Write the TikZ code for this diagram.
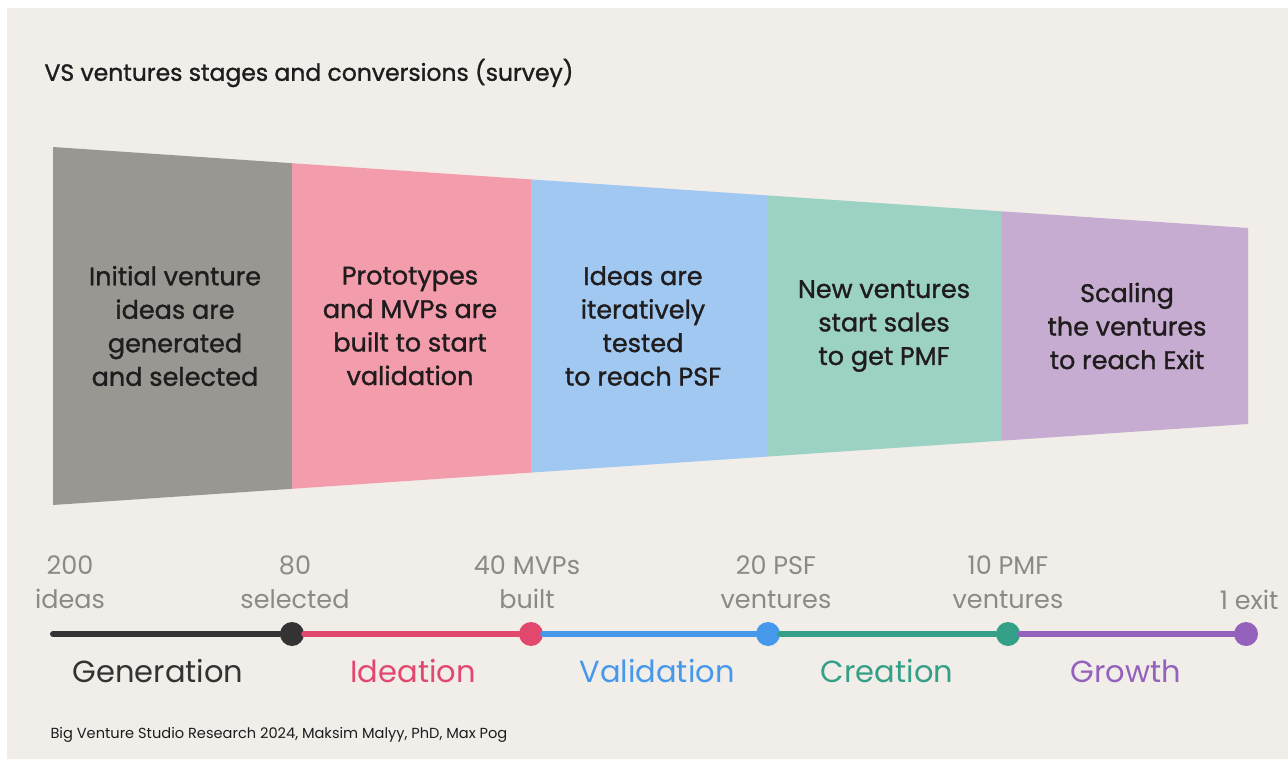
\documentclass[tikz,border=0pt]{standalone}
\usepackage{fontspec}
\setmainfont{Poppins}
\newfontfamily\medfont{Poppins}[FakeBold=1.2]
\begin{document}
\begin{tikzpicture}[x=1pt,y=-1pt,
 blurb/.style={align=center,text=ink,font=\medfont\fontsize{25.5}{33.5}\selectfont},
 count/.style={align=center,text=numgray,font=\fontsize{25.5}{34}\selectfont},
 phase/.style={font=\fontsize{30.5}{32}\selectfont},
 dot/.style={circle,inner sep=0pt,minimum size=24pt},
 tline/.style={line width=6pt,line cap=round}]
 \definecolor{bg}{RGB}{241,237,233}
 \definecolor{ink}{RGB}{32,28,30}
 \definecolor{numgray}{RGB}{140,138,135}
 \definecolor{s1}{RGB}{153,151,146}
 \definecolor{s2}{RGB}{243,156,172}
 \definecolor{s3}{RGB}{160,200,240}
 \definecolor{s4}{RGB}{155,210,196}
 \definecolor{s5}{RGB}{198,172,208}
 \definecolor{l1}{RGB}{52,50,50}
 \definecolor{l2}{RGB}{226,72,110}
 \definecolor{l3}{RGB}{70,152,235}
 \definecolor{l4}{RGB}{52,160,135}
 \definecolor{l5}{RGB}{148,98,188}
 \useasboundingbox (0,0) rectangle (1288,759);
 \fill[white] (0,0) rectangle (1288,759);
 \fill[bg] (7,8) rectangle (1288,759);
 \node[anchor=west,text=ink,font=\medfont\fontsize{23.5}{26}\selectfont] (title)
   at (41,73) {VS ventures stages and conversions (survey)};
 \foreach \col/\xa/\xb in {
   s1/53/292, s2/292/531, s3/531/767,
   s4/767/1002, s5/1002/1248
 } {
   \fill[\col]
   (\xa,{147+(\xa-53)*0.0678}) -- (\xb,{147+(\xb-53)*0.0678})
   -- (\xb,{505-(\xb-53)*0.0678}) -- (\xa,{505-(\xa-53)*0.0678}) -- cycle;
 }
 \node[blurb] (b1) at (175,326) {Initial venture\\ideas are\\generated\\and selected};
 \node[blurb] (b2) at (410,326) {Prototypes\\and MVPs are\\built to start\\validation};
 \node[blurb] (b3) at (643,326) {Ideas are\\iteratively\\tested\\to reach PSF};
 \node[blurb] (b4) at (884,326) {New ventures\\start sales\\to get PMF};
 \node[blurb] (b5) at (1127,326) {Scaling\\the ventures\\to reach Exit};
 \coordinate (d0) at (53,634);
 \foreach \nm/\col/\xp in {
   d1/l1/292, d2/l2/531, d3/l3/768,
   d4/l4/1008, d5/l5/1246
 } {
   \node[dot,fill=\col] (\nm) at (\xp,634) {};
 }
 \draw[tline,l1] (d0) -- (d1);
 \draw[tline,l2] (d1) -- (d2);
 \draw[tline,l3] (d2) -- (d3);
 \draw[tline,l4] (d3) -- (d4);
 \draw[tline,l5] (d4) -- (d5);
 \node[count] (n0) at (70,582) {200\\ideas};
 \node[count] (n1) at (295,582) {80\\selected};
 \node[count] (n2) at (527,582) {40 MVPs\\built};
 \node[count] (n3) at (776,582) {20 PSF\\ventures};
 \node[count] (n4) at (1008,582) {10 PMF\\ventures};
 \node[count,anchor=east] (n5) at (1282,600) {1 exit};
 \foreach \nm/\col/\xp/\txt in {
   p1/l1/158/Generation, p2/l2/413/Ideation, p3/l3/657/Validation,
   p4/l4/887/Creation, p5/l5/1126/Growth
 } {
   \node[phase,text=\col] (\nm) at (\xp,671) {\txt};
 }
 \node[anchor=west,text=ink,font=\fontsize{14.6}{16}\selectfont] (src)
   at (47,735) {Big Venture Studio Research 2024, Maksim Malyy, PhD, Max Pog};
\end{tikzpicture}
\end{document}
